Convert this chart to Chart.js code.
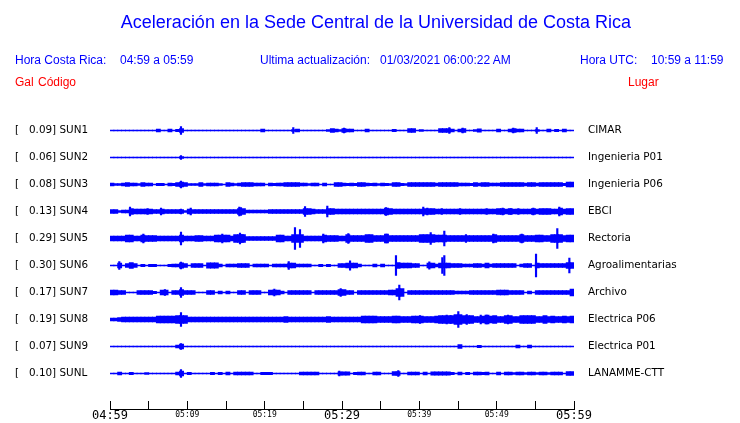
<!DOCTYPE html>
<html><head><meta charset="utf-8">
<script src="https://cdn.jsdelivr.net/npm/chart.js@4.4.1/dist/chart.umd.min.js"></script>
<style>
html,body{margin:0;padding:0;background:#fff;overflow:hidden}
#wrap{position:relative;width:740px;height:423px}
#c{position:absolute;left:0;top:0}
.txt{position:absolute;white-space:pre;font-family:"Liberation Sans",Arial,sans-serif;font-size:12px;line-height:14px;color:#0000ff}
.red{color:#ff0000}
#title{left:0;width:752px;text-align:center;top:13px;font-size:18px;line-height:18px}
</style></head><body>
<div id="wrap">
<canvas id="c" width="740" height="423"></canvas>
<div class="txt" id="title">Aceleración en la Sede Central de la Universidad de Costa Rica</div>
<div class="txt" style="left:15px;top:53px">Hora Costa Rica:</div>
<div class="txt" style="left:120px;top:53px">04:59 a 05:59</div>
<div class="txt" style="left:260px;top:53px">Ultima actualización:</div>
<div class="txt" style="left:380px;top:53px">01/03/2021 06:00:22 AM</div>
<div class="txt" style="left:580px;top:53px">Hora UTC:</div>
<div class="txt" style="left:651px;top:53px">10:59 a 11:59</div>
<div class="txt red" style="left:15px;top:75px">Gal</div>
<div class="txt red" style="left:38px;top:75px">Código</div>
<div class="txt red" style="left:628px;top:75px">Lugar</div>
</div>
<script>
// ---- data ----
const stations = ['SUN1','SUN2','SUN3','SUN4','SUN5','SUN6','SUN7','SUN8','SUN9','SUNL'];
const peakGal  = ['0.09','0.06','0.08','0.13','0.29','0.30','0.17','0.19','0.07','0.10'];
const places   = ['CIMAR','Ingenieria P01','Ingenieria P06','EBCI','Rectoria','Agroalimentarias','Archivo','Electrica P06','Electrica P01','LANAMME-CTT'];
const timeTickLabels = ['04:59','05:09','05:19','05:29','05:39','05:49','05:59'];
const binMinutes = 0.5; // envelope samples: one every 30 s over 60 minutes

// amplitude envelopes (half-height, relative units), 120 samples each
const sun1Env = [
.5,.5,.5,.5,.5,.5,.5,.5,.5,.5,.5,.5,1.5,.5,.5,1.5,.5,1.2,2,.5,
.5,.5,.5,.5,.5,.5,.5,.5,.5,.5,.5,.5,.5,.5,.5,.5,.5,.5,.5,1.5,
.5,.5,.5,.5,.5,.5,.5,1,1.5,.5,.5,.5,.5,.5,.5,.5,1,2,1.5,1,
2,1.5,1.5,.5,.5,.5,1.5,.5,.5,.5,.5,.5,.5,1.2,.5,.5,.5,2,2,.5,
1,.5,.5,.5,.5,2,2,2,1.5,.5,1.5,2,.5,.5,1,1.7,.5,.5,.5,.5,
1.5,.5,.5,1.5,2,1.5,1.5,.5,.5,.5,1,.5,.5,1.5,.5,1.2,.5,1.5,.5,.5];
const sun2Env = [
.5,.5,.5,.5,.5,.5,.5,.5,.5,.5,.5,.5,.5,.5,.5,.5,.5,.5,1,.5,
.5,.5,.5,.5,.5,.5,.5,.5,.5,.5,.5,.5,.5,.5,.5,.5,.5,.5,.5,.5,
.5,.5,.5,.5,.5,.5,.5,.5,.5,.5,.5,.5,.5,.5,.5,.5,.5,.5,.5,.5,
.5,.5,.5,.5,.5,.5,.5,.5,.5,.5,.5,.5,.5,.5,.5,.5,.5,.5,.5,.5,
.5,.5,.5,.5,.5,.5,.5,.5,.5,.5,.5,.5,.5,.5,.5,.5,.5,.5,.5,.5,
.5,.5,.5,.5,.5,.5,.5,.5,.5,.5,.5,.5,.5,.5,.5,.5,.5,.5,.5,.5];
const sun3Env = [
1.5,.8,1,1.5,1.8,1.5,1.5,1,2,1.5,1.5,.5,1.2,1.2,.5,1.5,1.2,2,2.5,2,
.8,1,1,2,.8,1.5,1.5,1.5,1,.5,2,1.5,.8,1.5,2,2,2,1.5,1.5,1.5,
.5,1.5,1.2,1.5,1.5,2,2,2,2,1.5,1.5,1,1.5,1.5,.5,1.5,.5,.5,2,2,
1.5,1.2,1.5,1.2,2,2,1.5,1.2,1.5,1,1.5,1.2,.8,2,2,1.2,1,2,2,2,
2,2,2,2,1.5,2,2,2,2,2,1.5,1.5,1.5,1.2,2,1.5,2,2,1.5,1.5,
1.5,2,2,2,2,2,2,1.5,2,2,1.5,2,2,2,2,2,2,1.2,2.5,2.5];
const sun4Env = [
2,2,1,1.5,1.5,3,2.5,2.5,2.5,2.5,2.5,2,2,2.5,2,2,2,2,2,.8,
2.5,2,2,2,2,2,2,2,2,2,2,2,2,3,3,1.5,1.5,1.5,1.5,1.5,
1.5,2,2,2,2,2,2,2,2,2,3,3,2.5,2,2,2,3,3,2.5,2.5,
2.5,2.5,2.5,2.5,2.5,2.5,2.5,2.5,2.5,2.5,2.5,3.5,3,2.5,2.5,2.5,2.5,2.5,2.5,2.5,
2.5,3,3,3,2.5,2.5,2.5,2.5,2.5,2.5,2.5,2.5,2.5,2.5,2.5,2.5,2.5,2.5,2.5,2.5,
3,3,2.5,3,2.5,2.5,2.5,2.5,2.5,3,2.5,3,3,3,2.5,2.5,3.5,2.5,3,3];
const sun5Env = [
2.5,2.5,2.5,2.5,3.5,3.5,2.5,2.5,3.5,3,3,3,2.5,2.5,2.5,2.5,2.5,2.5,3.5,2.5,
2.5,2.5,3,3,2.5,2.5,2.5,3.5,3.5,3.5,3.5,2.5,4,4,4,2,2,2,2,2,
2,2,2,3.5,3.5,2.5,2.5,4,4,4,2.5,2.5,2.5,2.5,2.5,3.5,3,3,3,2.5,
2.5,4,3,3,3,3,4,4,3,3,3,4.5,3,3,3,3,3,3,3,3,
4,4,4,4,3.5,3.5,3.5,3,3,3,3,3,3,3,3,3,3,3,3,4,
3,3,3,3,3,3,4,3,3,3,3.5,3.5,3,3,4,4,4,3,3.5,3.5];
const sun6Env = [
.5,.5,2.5,.5,2,3,2,.5,1.2,.5,1.2,1.2,.5,.5,.5,1.2,1.5,1.5,2.7,2,
.5,2,2,2,.5,2.7,2.7,2.7,1.3,.5,1.5,1.3,1.3,2,2,2,.5,1.5,1.5,1.5,
1.5,.5,1.5,1.5,1.5,1.5,2.5,2.5,1.5,1.5,1.5,1.5,.5,.5,1.2,.5,1.2,.5,.5,2,
2,2.5,2.5,2.5,1.3,.5,.5,.5,1.5,.5,1.5,.5,.5,.5,3,2.5,2.5,2.5,2,2,
.5,.5,2.5,2.5,1.5,2.5,2.5,2.5,2,2,2,1.5,1.5,1.5,2,2,1.5,2.5,1.5,2,
2,2,2,2,2,.5,1.3,2,2,.5,2.5,2,2,2,2,2,2,2,3,3];
const sun7Env = [
2.5,2.5,2,2,.5,.5,.5,2,2,2,2,1.2,.5,2.5,2.5,.5,2,2,3,2,
2,2,.5,.5,.5,2,2,.5,1.3,.5,1.3,.5,.5,2,2,.5,2,2,2,.5,
.5,2.5,2.5,2.5,1.3,.5,2,2,2,2,2,2,.5,2,2,2,2,2,2,3,
3,2,2,.5,2,2,2,2,2,2,2,2,2.5,2.5,4,4,.5,2,2,2,
2,2,2,2,2,2,2,2,2,1.5,1.5,1.5,1.5,2,2,2,2,2,2,2,
2.5,2.5,2.5,2,2,2,2,.5,1.5,.5,2,2,2,2,2,2,2,2,2,3.5];
const sun8Env = [
1.5,1.5,2,2.5,2.5,2.5,2.5,2.5,2.5,2.5,2.5,2.5,3.5,3.5,3.5,3.5,3.5,4,4,4,
2.5,2.5,2.5,2.5,2.5,2.5,2.5,2.5,2.5,2.5,2.5,2.5,2.5,2.5,2.5,2.5,2.5,2.5,2.5,2.5,
2.5,2.5,2.5,2.5,2.5,3,2.5,2.5,2.5,2.5,2.5,2.5,2.5,2.5,2.5,2.5,3,2.5,2.5,2.5,
2.5,2.5,2.5,2.5,2.5,3.5,3.5,3.5,3.5,3,3,3,3,3.5,3.5,3,3,3,3.5,3.5,
3.5,3,3,3,3.5,3.8,3.8,3.8,3.8,5,5,4,4,4,3,3,3.5,4.5,3.5,4,
3,3,4,4,3,3,4,4,4,4,3,3,4,3,3.5,3,3,3.5,3,3.5];
const sun9Env = [
.5,.5,.5,.5,.5,.5,.5,.5,.5,.5,.5,.5,.5,.5,.5,.5,.5,1.5,2.5,.5,
.5,.5,.5,.5,.5,.5,.5,.5,.5,.5,.5,.5,.5,.5,.5,.5,.5,.5,.5,.5,
.5,.5,.5,.5,.5,.5,.5,.5,.5,.5,.5,.5,.5,.5,.5,.5,.5,.5,.5,.5,
.5,.5,.5,.5,.5,.5,.5,.5,.5,.5,.5,.5,.5,.5,.5,.5,.5,.5,.5,.5,
.5,.5,.5,.5,.5,.5,.5,.5,.5,.5,2,.5,.5,.5,.5,1.2,.5,.5,.5,.5,
.5,.5,.5,.5,.5,1.5,.5,.5,1.5,.5,.5,.5,.5,.5,.5,.5,.5,.5,.5,.5];
const sunlEnv = [
.5,.5,1.5,.5,.5,1.2,.5,.5,.5,1,.5,.5,.5,.5,.5,.5,.5,1.5,2.5,.5,
1.2,.5,.5,.5,.5,.5,1.2,.5,1.2,.5,1.5,.5,1.5,1.5,1.5,1.5,1.5,.5,.5,1.2,
1.2,1.2,.5,.5,.5,.5,.5,.5,.5,1.5,1.5,1.5,1.5,1.5,.5,.5,.5,.5,.5,1.7,
1.7,1.7,.5,1.2,1.5,1.5,.5,.5,1.5,1.5,.5,.5,.5,2,2,.5,.5,1.5,1.5,1.5,
.5,1.5,.5,1.7,1.7,1.7,1.7,1.7,1.2,.5,1.5,.5,1.2,.5,1.5,1.5,1.2,1.5,.5,.5,
1.5,.5,1.5,1.5,1,1.5,1.5,1,1.5,1.5,1,1.5,1.5,1,1.5,1.5,1.5,.5,2,2];

// isolated peaks: [minute after 04:59, half-amplitude]
const sun1Spikes = [[9.18,4],[23.70,3],[30.26,2.5],[43.88,3],[45.6,2.3],[52.15,2.5],[55.18,3]];
const sun2Spikes = [[9.18,2]];
const sun3Spikes = [[9.18,3.5]];
const sun4Spikes = [[2.59,4.5],[4.85,3],[6.6,3.5],[9.18,2.5],[10.44,3.5],[16.72,4.5],[16.94,4],[25.22,5],[28.1,5.5],[35.69,4],[40.51,4.5],[41.03,3.5],[42.89,3],[45.26,3],[48.71,3],[50.78,3.5],[51.81,3],[52.8,3],[54.74,3.5],[58.1,4.5]];
const sun5Spikes = [[4.31,4.5],[9.18,6.3],[14.52,4.5],[16.81,5.5],[17.16,4],[23.92,11],[24.57,9],[27.58,4.5],[30.82,5],[35.75,4.5],[41.47,6],[43.23,7.5],[46.03,4],[49.57,4.5],[53.24,4.5],[57.84,10]];
const sun6Spikes = [[1.2,4],[9.18,3.5],[23.11,4],[31.04,4.7],[36.98,10],[41.29,3.7],[42.97,8],[43.23,10],[55.09,11.5],[59.4,7.5]];
const sun7Spikes = [[7.11,3],[9.18,5],[21.25,3.5],[29.83,3.8],[37.41,7.5]];
const sun8Spikes = [[9.18,6.8],[40.09,4],[43.54,4.5],[44.06,4],[45.04,8],[46.13,5],[47.94,4.5],[48.71,4.5],[51.47,4.5]];
const sun9Spikes = [[9.18,3]];
const sunlSpikes = [[9.18,4],[29.65,2.5],[37.28,3]];

const envelopes = [sun1Env,sun2Env,sun3Env,sun4Env,sun5Env,sun6Env,sun7Env,sun8Env,sun9Env,sunlEnv];
const spikes = [sun1Spikes,sun2Spikes,sun3Spikes,sun4Spikes,sun5Spikes,sun6Spikes,sun7Spikes,sun8Spikes,sun9Spikes,sunlSpikes];

// ---- chart ----
const LANE = 27;
const N = stations.length;
const laneCenter = k => (N - 1 - k) * LANE;
const BLUE = '#0000ff';

const datasets = [];
envelopes.forEach((env, k) => {
  const c = laneCenter(k);
  datasets.push({
    type: 'bar',
    data: env.map((a, i) => ({x: i * binMinutes + binMinutes / 2, y: [c - a, c + a]})),
    backgroundColor: BLUE, borderWidth: 0, borderSkipped: false,
    barThickness: 4.2, grouped: false
  });
  datasets.push({
    type: 'bar',
    data: spikes[k].map(([t, a]) => ({x: t, y: [c - a, c + a]})),
    backgroundColor: BLUE, borderWidth: 0, borderSkipped: false,
    barThickness: 1.5, grouped: false
  });
});

const axisLine = {
  id: 'axisLine',
  afterDraw(chart) {
    const s = chart.scales.x, ctx = chart.ctx;
    const y = Math.floor(chart.chartArea.bottom + 8.5);
    ctx.save();
    ctx.fillStyle = '#000';
    ctx.fillRect(Math.floor(s.left), y, Math.ceil(s.right) - Math.floor(s.left) + 1, 1);
    ctx.restore();
  }
};

const laneTicks = axis => { axis.ticks = stations.map((_, k) => ({value: laneCenter(k)})).reverse(); };
const laneIndex = v => N - 1 - Math.round(v / LANE);

new Chart(document.getElementById('c'), {
  type: 'bar',
  data: {datasets},
  plugins: [axisLine],
  options: {
    responsive: false, animation: false, devicePixelRatio: 1,
    layout: {padding: {top: 103.5, left: 15, right: 0, bottom: 0}},
    plugins: {legend: {display: false}, tooltip: {enabled: false}, title: {display: false}},
    scales: {
      x: {
        type: 'linear', min: 0, max: 60, offset: false,
        afterFit(s) { s.height = 22.5; },
        grid: {display: true, offset: false, drawOnChartArea: false, drawTicks: true, tickLength: 9, color: '#000', lineWidth: 1},
        border: {display: false},
        afterBuildTicks(axis) { const t = []; for (let v = 0; v <= 60; v += 5) t.push({value: v}); axis.ticks = t; },
        ticks: {
          autoSkip: false, maxRotation: 0, padding: -0.5, color: '#000',
          font: ctx => (ctx.tick && ctx.tick.value % 30 === 0)
            ? {family: 'DejaVu Sans Mono', size: 12, lineHeight: 1.2}
            : {family: 'DejaVu Sans Mono', size: 8, lineHeight: 1.6},
          callback: v => (v % 10 === 0 ? timeTickLabels[v / 10] : '')
        }
      },
      y: {
        type: 'linear', position: 'left', min: -LANE, max: LANE * N,
        afterFit(s) { s.width = 95; },
        afterBuildTicks: laneTicks,
        grid: {display: false}, border: {display: false},
        ticks: {
          autoSkip: false, crossAlign: 'far', padding: 0, color: '#000',
          font: {family: 'DejaVu Sans', size: 10.4},
          callback: v => '[   ' + peakGal[laneIndex(v)] + '] ' + stations[laneIndex(v)]
        }
      },
      y2: {
        type: 'linear', position: 'right', min: -LANE, max: LANE * N,
        afterFit(s) { s.width = 166; },
        afterBuildTicks: laneTicks,
        grid: {display: false}, border: {display: false},
        ticks: {
          autoSkip: false, crossAlign: 'near', padding: 6, color: '#000',
          font: {family: 'DejaVu Sans', size: 10.4},
          callback: v => places[laneIndex(v)]
        }
      }
    }
  }
});
</script>
</body></html>
